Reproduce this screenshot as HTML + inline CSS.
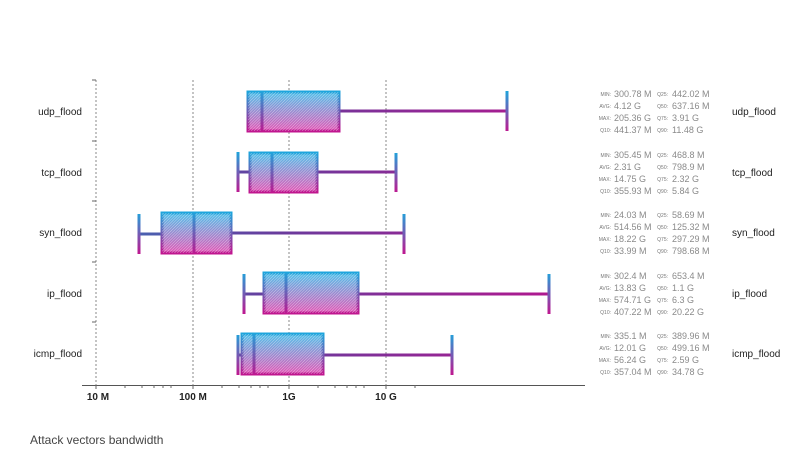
<!DOCTYPE html>
<html><head><meta charset="utf-8"><style>
html,body{margin:0;padding:0;background:#fff;}
svg{display:block;font-family:"Liberation Sans",sans-serif;}
.lab{font-size:10px;fill:#222;}
.sl{font-size:5px;fill:#777;text-anchor:end;}
.sv{font-size:9px;fill:#8a8a8a;}
.ax{font-size:10px;font-weight:bold;fill:#222;text-anchor:middle;}
</style></head><body>
<svg width="798" height="460" viewBox="0 0 798 460">
<defs>
<pattern id="hatch" width="2" height="2" patternUnits="userSpaceOnUse" patternTransform="rotate(45)">
<line x1="0" y1="0" x2="0" y2="2" stroke="#fff" stroke-width="0.7" stroke-opacity="0.8"/>
</pattern>
<linearGradient id="gf" x1="0" y1="0" x2="0" y2="1">
<stop offset="0" stop-color="#4fc0ea"/><stop offset="1" stop-color="#e255b5"/>
</linearGradient>
<linearGradient id="g" x1="0" y1="0" x2="0" y2="1">
<stop offset="0" stop-color="#1ea5dc"/><stop offset="1" stop-color="#c0168f"/>
</linearGradient>
<linearGradient id="g1" gradientUnits="userSpaceOnUse" x1="0" y1="91" x2="0" y2="132"><stop offset="0" stop-color="#1ea5dc"/><stop offset="1" stop-color="#c0168f"/></linearGradient>
<linearGradient id="g2" gradientUnits="userSpaceOnUse" x1="0" y1="152" x2="0" y2="193"><stop offset="0" stop-color="#1ea5dc"/><stop offset="1" stop-color="#c0168f"/></linearGradient>
<linearGradient id="g3" gradientUnits="userSpaceOnUse" x1="0" y1="212" x2="0" y2="254"><stop offset="0" stop-color="#1ea5dc"/><stop offset="1" stop-color="#c0168f"/></linearGradient>
<linearGradient id="g4" gradientUnits="userSpaceOnUse" x1="0" y1="272" x2="0" y2="314"><stop offset="0" stop-color="#1ea5dc"/><stop offset="1" stop-color="#c0168f"/></linearGradient>
<linearGradient id="g5" gradientUnits="userSpaceOnUse" x1="0" y1="333" x2="0" y2="375"><stop offset="0" stop-color="#1ea5dc"/><stop offset="1" stop-color="#c0168f"/></linearGradient>
<linearGradient id="wh" gradientUnits="userSpaceOnUse" x1="140" y1="0" x2="550" y2="0">
<stop offset="0" stop-color="#4a60b0"/><stop offset="0.35" stop-color="#6a3a9c"/><stop offset="1" stop-color="#b0188f"/>
</linearGradient>
</defs>
<g stroke="#888" stroke-width="1" stroke-dasharray="2,2">
<line x1="96" y1="80" x2="96" y2="385"/>
<line x1="193" y1="80" x2="193" y2="385"/>
<line x1="289" y1="80" x2="289" y2="385"/>
<line x1="386" y1="80" x2="386" y2="385"/>
</g>
<g stroke="#666" stroke-width="1">
<line x1="92" y1="80" x2="96" y2="80"/><line x1="92" y1="141" x2="96" y2="141"/>
<line x1="92" y1="201" x2="96" y2="201"/><line x1="92" y1="262" x2="96" y2="262"/>
<line x1="92" y1="322" x2="96" y2="322"/>
<line x1="82" y1="385.5" x2="585" y2="385.5" stroke="#555"/>
</g>
<g stroke="#666" stroke-width="1">
<line x1="96" y1="385" x2="96" y2="389"/><line x1="125" y1="385" x2="125" y2="388"/><line x1="142" y1="385" x2="142" y2="388"/><line x1="154" y1="385" x2="154" y2="388"/><line x1="163" y1="385" x2="163" y2="388"/><line x1="171" y1="385" x2="171" y2="388"/>
<line x1="193" y1="385" x2="193" y2="389"/><line x1="222" y1="385" x2="222" y2="388"/><line x1="239" y1="385" x2="239" y2="388"/><line x1="251" y1="385" x2="251" y2="388"/><line x1="260" y1="385" x2="260" y2="388"/><line x1="268" y1="385" x2="268" y2="388"/>
<line x1="289" y1="385" x2="289" y2="389"/><line x1="318" y1="385" x2="318" y2="388"/><line x1="335" y1="385" x2="335" y2="388"/><line x1="347" y1="385" x2="347" y2="388"/><line x1="356" y1="385" x2="356" y2="388"/><line x1="364" y1="385" x2="364" y2="388"/>
<line x1="386" y1="385" x2="386" y2="389"/><line x1="415" y1="385" x2="415" y2="388"/>
</g>
<text class="ax" x="98" y="400">10 M</text>
<text class="ax" x="193" y="400">100 M</text>
<text class="ax" x="289" y="400">1G</text>
<text class="ax" x="386" y="400">10 G</text>
<text x="30" y="444" style="font-size:12px;fill:#444">Attack vectors bandwidth</text>

<g stroke-width="3" fill="none">
<!-- udp -->
<line x1="339" y1="111" x2="507" y2="111" stroke="url(#wh)"/>
<line x1="507" y1="91" x2="507" y2="131" stroke="url(#g1)"/>
<rect x="248" y="92" width="91" height="39" fill="url(#gf)" stroke="url(#g)"/>
<rect x="248" y="92" width="91" height="39" fill="url(#hatch)" stroke="none"/>
<line x1="262" y1="92" x2="262" y2="131" stroke="url(#g1)"/>
<!-- tcp -->
<line x1="238" y1="172" x2="249" y2="172" stroke="url(#wh)"/>
<line x1="317" y1="172" x2="396" y2="172" stroke="url(#wh)"/>
<line x1="238" y1="152" x2="238" y2="192" stroke="url(#g2)"/>
<line x1="396" y1="153" x2="396" y2="192" stroke="url(#g2)"/>
<rect x="250" y="153" width="67" height="39" fill="url(#gf)" stroke="url(#g)"/>
<rect x="250" y="153" width="67" height="39" fill="url(#hatch)" stroke="none"/>
<line x1="272" y1="153" x2="272" y2="192" stroke="url(#g2)"/>
<!-- syn -->
<line x1="139" y1="234" x2="161" y2="234" stroke="url(#wh)"/>
<line x1="231" y1="233" x2="404" y2="233" stroke="url(#wh)"/>
<line x1="139" y1="214" x2="139" y2="254" stroke="url(#g3)"/>
<line x1="404" y1="214" x2="404" y2="254" stroke="url(#g3)"/>
<rect x="162" y="213" width="69" height="40" fill="url(#gf)" stroke="url(#g)"/>
<rect x="162" y="213" width="69" height="40" fill="url(#hatch)" stroke="none"/>
<line x1="194" y1="213" x2="194" y2="253" stroke="url(#g3)"/>
<!-- ip -->
<line x1="244" y1="294" x2="263" y2="294" stroke="url(#wh)"/>
<line x1="358" y1="294" x2="549" y2="294" stroke="url(#wh)"/>
<line x1="244" y1="274" x2="244" y2="314" stroke="url(#g4)"/>
<line x1="549" y1="274" x2="549" y2="314" stroke="url(#g4)"/>
<rect x="264" y="273" width="94" height="40" fill="url(#gf)" stroke="url(#g)"/>
<rect x="264" y="273" width="94" height="40" fill="url(#hatch)" stroke="none"/>
<line x1="286" y1="273" x2="286" y2="313" stroke="url(#g4)"/>
<!-- icmp -->
<line x1="238" y1="355" x2="242" y2="355" stroke="url(#wh)"/>
<line x1="323" y1="355" x2="452" y2="355" stroke="url(#wh)"/>
<line x1="238" y1="335" x2="238" y2="375" stroke="url(#g5)"/>
<line x1="452" y1="335" x2="452" y2="375" stroke="url(#g5)"/>
<rect x="242" y="334" width="81" height="40" fill="url(#gf)" stroke="url(#g)"/>
<rect x="242" y="334" width="81" height="40" fill="url(#hatch)" stroke="none"/>
<line x1="254" y1="334" x2="254" y2="374" stroke="url(#g5)"/>
</g>

<g class="lab" text-anchor="end">
<text x="82" y="115">udp_flood</text>
<text x="82" y="176">tcp_flood</text>
<text x="82" y="236">syn_flood</text>
<text x="82" y="297">ip_flood</text>
<text x="82" y="357">icmp_flood</text>
</g>
<g class="lab">
<text x="732" y="115">udp_flood</text>
<text x="732" y="176">tcp_flood</text>
<text x="732" y="236">syn_flood</text>
<text x="732" y="297">ip_flood</text>
<text x="732" y="357">icmp_flood</text>
</g>

<g transform="translate(0,111)">
<text class="sl" x="611" y="-15">MIN:</text><text class="sv" x="614" y="-14">300.78 M</text>
<text class="sl" x="611" y="-3">AVG:</text><text class="sv" x="614" y="-2">4.12 G</text>
<text class="sl" x="611" y="9">MAX:</text><text class="sv" x="614" y="10">205.36 G</text>
<text class="sl" x="611" y="21">Q10:</text><text class="sv" x="614" y="22">441.37 M</text>
<text class="sl" x="668" y="-15">Q25:</text><text class="sv" x="672" y="-14">442.02 M</text>
<text class="sl" x="668" y="-3">Q50:</text><text class="sv" x="672" y="-2">637.16 M</text>
<text class="sl" x="668" y="9">Q75:</text><text class="sv" x="672" y="10">3.91 G</text>
<text class="sl" x="668" y="21">Q90:</text><text class="sv" x="672" y="22">11.48 G</text>
</g>
<g transform="translate(0,172)">
<text class="sl" x="611" y="-15">MIN:</text><text class="sv" x="614" y="-14">305.45 M</text>
<text class="sl" x="611" y="-3">AVG:</text><text class="sv" x="614" y="-2">2.31 G</text>
<text class="sl" x="611" y="9">MAX:</text><text class="sv" x="614" y="10">14.75 G</text>
<text class="sl" x="611" y="21">Q10:</text><text class="sv" x="614" y="22">355.93 M</text>
<text class="sl" x="668" y="-15">Q25:</text><text class="sv" x="672" y="-14">468.8 M</text>
<text class="sl" x="668" y="-3">Q50:</text><text class="sv" x="672" y="-2">798.9 M</text>
<text class="sl" x="668" y="9">Q75:</text><text class="sv" x="672" y="10">2.32 G</text>
<text class="sl" x="668" y="21">Q90:</text><text class="sv" x="672" y="22">5.84 G</text>
</g>
<g transform="translate(0,232)">
<text class="sl" x="611" y="-15">MIN:</text><text class="sv" x="614" y="-14">24.03 M</text>
<text class="sl" x="611" y="-3">AVG:</text><text class="sv" x="614" y="-2">514.56 M</text>
<text class="sl" x="611" y="9">MAX:</text><text class="sv" x="614" y="10">18.22 G</text>
<text class="sl" x="611" y="21">Q10:</text><text class="sv" x="614" y="22">33.99 M</text>
<text class="sl" x="668" y="-15">Q25:</text><text class="sv" x="672" y="-14">58.69 M</text>
<text class="sl" x="668" y="-3">Q50:</text><text class="sv" x="672" y="-2">125.32 M</text>
<text class="sl" x="668" y="9">Q75:</text><text class="sv" x="672" y="10">297.29 M</text>
<text class="sl" x="668" y="21">Q90:</text><text class="sv" x="672" y="22">798.68 M</text>
</g>
<g transform="translate(0,293)">
<text class="sl" x="611" y="-15">MIN:</text><text class="sv" x="614" y="-14">302.4 M</text>
<text class="sl" x="611" y="-3">AVG:</text><text class="sv" x="614" y="-2">13.83 G</text>
<text class="sl" x="611" y="9">MAX:</text><text class="sv" x="614" y="10">574.71 G</text>
<text class="sl" x="611" y="21">Q10:</text><text class="sv" x="614" y="22">407.22 M</text>
<text class="sl" x="668" y="-15">Q25:</text><text class="sv" x="672" y="-14">653.4 M</text>
<text class="sl" x="668" y="-3">Q50:</text><text class="sv" x="672" y="-2">1.1 G</text>
<text class="sl" x="668" y="9">Q75:</text><text class="sv" x="672" y="10">6.3 G</text>
<text class="sl" x="668" y="21">Q90:</text><text class="sv" x="672" y="22">20.22 G</text>
</g>
<g transform="translate(0,353)">
<text class="sl" x="611" y="-15">MIN:</text><text class="sv" x="614" y="-14">335.1 M</text>
<text class="sl" x="611" y="-3">AVG:</text><text class="sv" x="614" y="-2">12.01 G</text>
<text class="sl" x="611" y="9">MAX:</text><text class="sv" x="614" y="10">56.24 G</text>
<text class="sl" x="611" y="21">Q10:</text><text class="sv" x="614" y="22">357.04 M</text>
<text class="sl" x="668" y="-15">Q25:</text><text class="sv" x="672" y="-14">389.96 M</text>
<text class="sl" x="668" y="-3">Q50:</text><text class="sv" x="672" y="-2">499.16 M</text>
<text class="sl" x="668" y="9">Q75:</text><text class="sv" x="672" y="10">2.59 G</text>
<text class="sl" x="668" y="21">Q90:</text><text class="sv" x="672" y="22">34.78 G</text>
</g>
</svg>
</body></html>
